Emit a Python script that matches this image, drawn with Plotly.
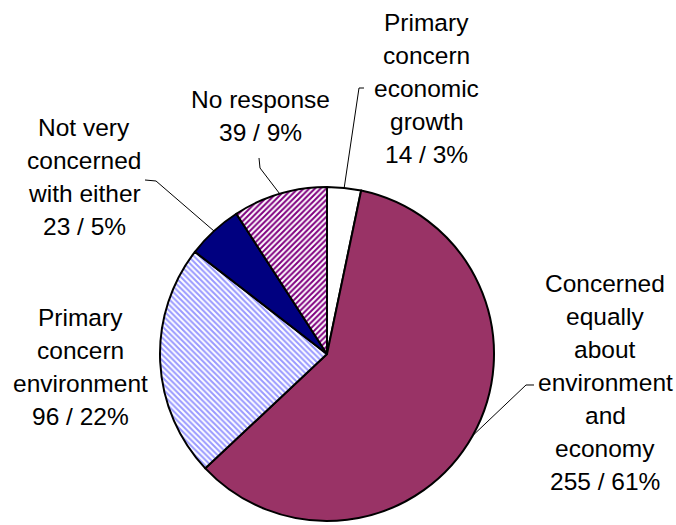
import math
import plotly.graph_objects as go

# Survey responses: concern for the environment vs. the economy
labels = [
    "Primary concern economic growth",
    "Concerned equally about environment and economy",
    "Primary concern environment",
    "Not very concerned with either",
    "No response",
]
counts = [14, 255, 96, 23, 39]
percents = [3, 61, 22, 5, 9]
label_lines = [
    ["Primary", "concern", "economic", "growth"],
    ["Concerned", "equally", "about", "environment", "and", "economy"],
    ["Primary", "concern", "environment"],
    ["Not very", "concerned", "with either"],
    ["No response"],
]

fill_colors = ["#FFFFFF", "#993366", "#FFFFFF", "#000080", "#FFFFFF"]
hatch_shapes = ["", "", "\\", "", "/"]
hatch_colors = ["#FFFFFF", "#993366", "#9999FF", "#000080", "#800080"]

W, H = 676, 525
CX, CY, R = 327, 354, 167          # pie centre and radius in pixels
FONT = dict(family="Liberation Sans, Arial, sans-serif", size=24.5, color="black")
LINE_STEP = 33                      # baseline-to-baseline spacing of label lines

# label block placement: centre x and first baseline y (pixels)
label_pos = [(427, 31), (605, 292), (80, 326), (84, 136), (260, 108)]
# leader line start (label side) as pixel polylines; None = no leader
leader_start = [
    [(364, 88), (359, 88)],
    [(534, 385), (526, 385)],
    None,
    [(145, 180), (156, 181)],
    [(259, 158), (260, 168)],
]


def px(x, y):
    return x / W, 1 - y / H


fig = go.Figure(
    go.Pie(
        labels=labels,
        values=counts,
        sort=False,
        direction="clockwise",
        rotation=0,
        textinfo="none",
        showlegend=False,
        marker=dict(
            colors=fill_colors,
            line=dict(color="black", width=2),
            pattern=dict(
                shape=hatch_shapes,
                fgcolor=hatch_colors,
                bgcolor=fill_colors,
                size=4,
                solidity=0.5,
                fillmode="replace",
            ),
        ),
        domain=dict(x=[(CX - R) / W, (CX + R) / W], y=[1 - (CY + R) / H, 1 - (CY - R) / H]),
    )
)

annotations = []
shapes = []
total = sum(counts)
cum = 0
for i, v in enumerate(counts):
    mid = 2 * math.pi * (cum + v / 2) / total
    cum += v
    lines = label_lines[i] + [f"{v} / {percents[i]}%"]
    x0, b0 = label_pos[i]
    for k, ln in enumerate(lines):
        xp, yp = px(x0, b0 + k * LINE_STEP - 8.5)
        annotations.append(
            dict(x=xp, y=yp, xref="paper", yref="paper", text=ln, showarrow=False,
                 xanchor="center", yanchor="middle", font=FONT)
        )
    if leader_start[i]:
        ex, ey = CX + R * math.sin(mid), CY - R * math.cos(mid)
        pts = [px(*p) for p in leader_start[i]] + [px(ex, ey)]
        path = "M " + " L ".join(f"{a:.5f},{b:.5f}" for a, b in pts)
        shapes.append(dict(type="path", path=path, xref="paper", yref="paper",
                           line=dict(color="black", width=1)))

fig.update_layout(
    width=W,
    height=H,
    margin=dict(l=0, r=0, t=0, b=0),
    paper_bgcolor="white",
    plot_bgcolor="white",
    annotations=annotations,
    shapes=shapes,
)

fig.write_html("out.html")
